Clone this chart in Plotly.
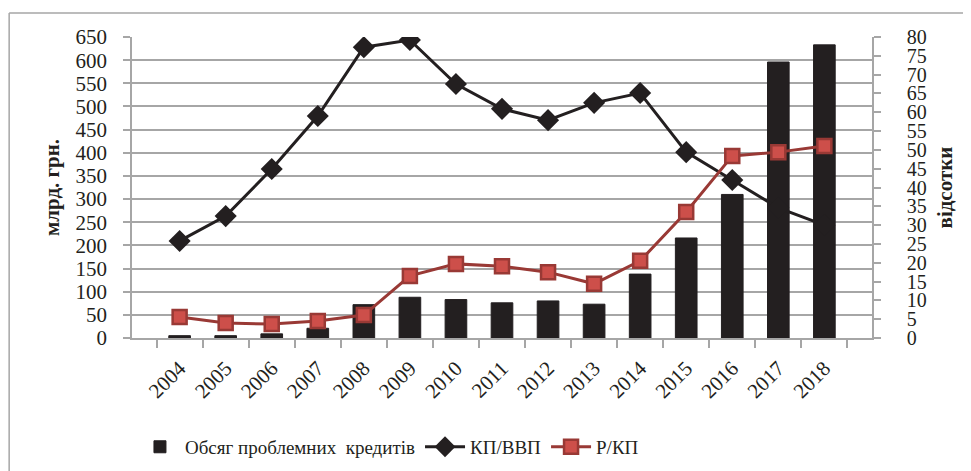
import plotly.graph_objects as go

years = ["2004", "2005", "2006", "2007", "2008", "2009", "2010", "2011",
         "2012", "2013", "2014", "2015", "2016", "2017", "2018"]
# обсяг проблемних кредитів, млрд. грн.
problem_loans = [5, 5, 9, 21, 72, 88, 83, 76, 80, 73, 138, 216, 310, 596, 633]
# КП/ВВП, %
kp_vvp = [25.8, 32.4, 44.9, 59.0, 77.3, 79.2, 67.5, 60.9, 57.9, 62.5, 65.1,
          49.4, 42.0, 34.6, 30.0]
# Р/КП, %
r_kp = [5.6, 4.0, 3.7, 4.5, 6.1, 16.5, 19.7, 19.1, 17.5, 14.4, 20.5,
        33.5, 48.4, 49.4, 51.0]

serif = "Liberation Serif, Times New Roman, serif"
grid = "#a6a6a6"

fig = go.Figure()
fig.add_trace(go.Bar(
    x=years,
    y=problem_loans,
    name="Обсяг проблемних  кредитів",
    marker=dict(color="#231f20", line=dict(color="#231f20", width=1)),
))
fig.add_trace(go.Scatter(
    x=years,
    y=kp_vvp,
    name="КП/ВВП",
    yaxis="y2",
    mode="lines+markers",
    line=dict(color="#231f20", width=3),
    marker=dict(symbol="diamond", size=17, color="#231f20"),
))
fig.add_trace(go.Scatter(
    x=years,
    y=r_kp,
    name="Р/КП",
    yaxis="y2",
    mode="lines+markers",
    line=dict(color="#993935", width=3),
    marker=dict(symbol="square", size=14, color="#cd4f4a",
                line=dict(color="#993935", width=2.5)),
))

# the page body adds an 8px offset, so the figure is 8px smaller
fig.update_layout(
    width=963,
    height=463,
    margin=dict(l=124, r=99, t=29, b=133),
    plot_bgcolor="white",
    paper_bgcolor="white",
    font=dict(family=serif, size=21, color="#231f20"),
    bargap=0.53,
    showlegend=True,
    legend=dict(
        orientation="h",
        x=0.004, xanchor="left",
        yref="container",
        y=0.052, yanchor="middle",
        font=dict(size=19),
        itemwidth=40,
        traceorder="normal",
    ),
    xaxis=dict(
        type="category",
        tickangle=-45,
        tickfont=dict(size=21),
        showline=True, linecolor=grid, linewidth=1.5,
        ticks="outside", ticklen=8, tickcolor=grid, tickwidth=1.5,
        tickson="boundaries",
        ticklabelstandoff=8,
        showgrid=False,
        automargin=False,
    ),
    yaxis=dict(
        range=[0, 650],
        dtick=50,
        showgrid=True, gridcolor=grid, gridwidth=1.5,
        showline=True, linecolor=grid, linewidth=1.5,
        ticks="outside", ticklen=7, tickcolor=grid, tickwidth=1.5,
        ticklabelstandoff=12,
        zeroline=False,
        title=dict(text="<b>млрд. грн.</b>", font=dict(size=21), standoff=10),
        automargin=False,
    ),
    yaxis2=dict(
        overlaying="y",
        side="right",
        range=[0, 80],
        dtick=5,
        tickfont=dict(size=20),
        showgrid=False,
        showline=True, linecolor=grid, linewidth=1.5,
        ticks="outside", ticklen=7, tickcolor=grid, tickwidth=1.5,
        ticklabelstandoff=22,
        zeroline=False,
        title=dict(text="<b>відсотки</b>", font=dict(size=21), standoff=12),
        automargin=False,
    ),
    shapes=[
        dict(type="line", xref="paper", yref="paper",
             x0=-0.166, x1=-0.166, y0=1.08, y1=-0.5,
             line=dict(color=grid, width=1.5)),
        dict(type="line", xref="paper", yref="paper",
             x0=-0.166, x1=1.2, y0=1.08, y1=1.08,
             line=dict(color=grid, width=1.5)),
    ],
)

fig.write_html("out.html")
